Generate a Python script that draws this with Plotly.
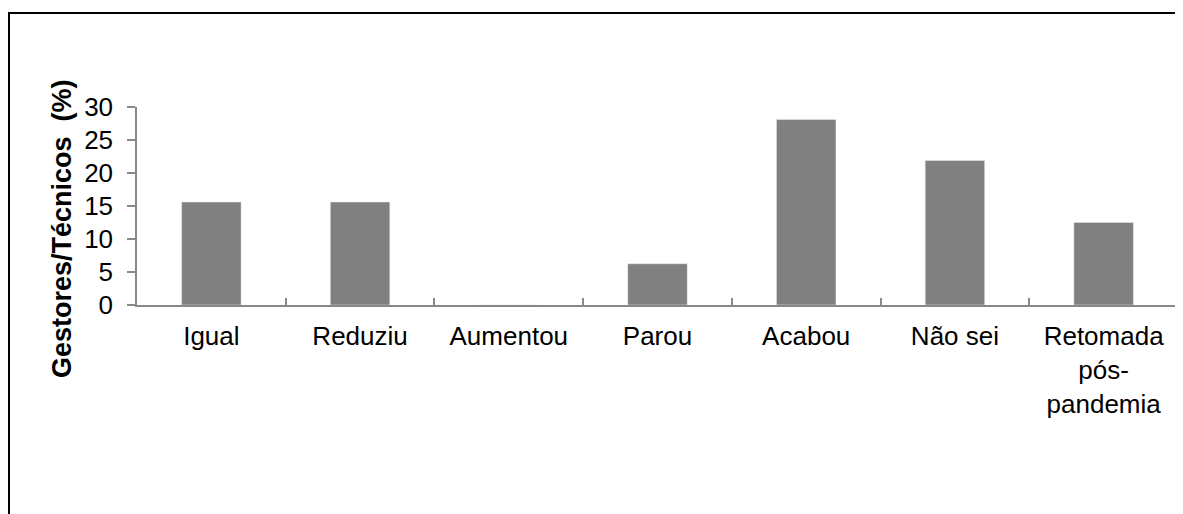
import plotly.graph_objects as go

categories = ["Igual", "Reduziu", "Aumentou", "Parou", "Acabou", "Não sei", "Retomada<br>pós-<br>pandemia"]
values = [15.6, 15.6, 0, 6.25, 28.1, 21.9, 12.5]
y_ticks = [0, 5, 10, 15, 20, 25, 30]
y_title = "Gestores/Técnicos  (%)"

# page body margin is 8px, so figure coords = screen coords - 8
W, H = 1175, 506
L, R, T, B = 129, 5, 99, 209
pw, ph = W - L - R, H - T - B

def px_x(p):
    return (p - L) / pw

def px_y(p):
    return (H - B - p) / ph

fig = go.Figure(go.Bar(x=categories, y=values, marker_color="#808080", width=0.4))

axis_color = "#888888"
fig.update_layout(
    width=W, height=H,
    margin=dict(l=L, r=R, t=T, b=B),
    plot_bgcolor="white", paper_bgcolor="white",
    font=dict(family="Liberation Sans, Arial, sans-serif", size=26, color="black"),
    showlegend=False,
)
fig.update_xaxes(
    showline=True, linecolor=axis_color, linewidth=1.5,
    ticks="inside", tickson="boundaries", ticklen=7, tickcolor=axis_color, tickwidth=1.5,
    showgrid=False, ticklabelstandoff=7, tickfont=dict(size=26),
)
fig.update_yaxes(
    range=[0, 30], tickvals=y_ticks, showline=True, linecolor=axis_color, linewidth=1.5,
    ticks="outside", ticklen=8, tickcolor=axis_color, tickwidth=1.5,
    showgrid=False, zeroline=False, ticklabelstandoff=9, tickfont=dict(size=26),
)
fig.add_annotation(
    text="<b>" + y_title + "</b>", xref="paper", yref="paper",
    x=px_x(54), y=px_y(221), textangle=-90, showarrow=False,
    font=dict(size=27, color="black"), xanchor="center", yanchor="middle",
)
# outer frame: only top and left edges are visible in the reference
fig.add_shape(
    type="line", xref="paper", yref="paper",
    x0=px_x(1), y0=px_y(5), x1=px_x(W + 10), y1=px_y(5),
    line=dict(color="black", width=2), layer="above",
)
fig.add_shape(
    type="line", xref="paper", yref="paper",
    x0=px_x(1), y0=px_y(4), x1=px_x(1), y1=px_y(H + 10),
    line=dict(color="black", width=2), layer="above",
)
fig.write_html("out.html")
